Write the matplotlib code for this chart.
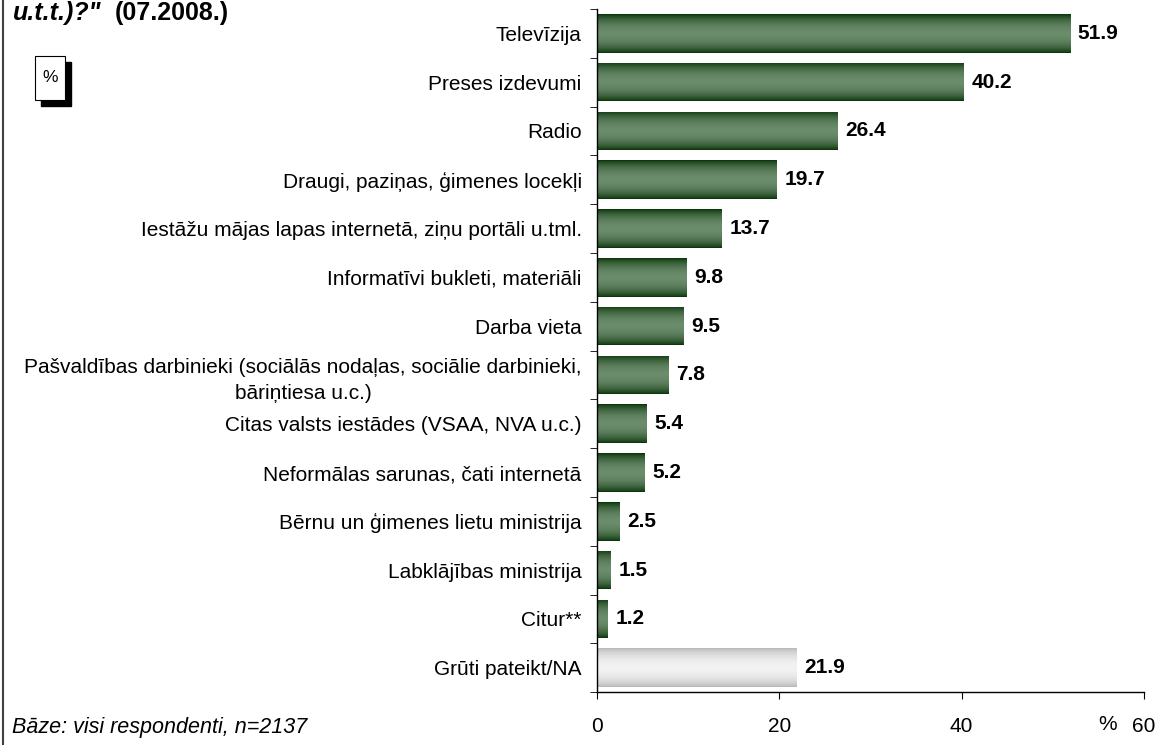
import matplotlib.pyplot as plt
import numpy as np
from matplotlib.patches import Rectangle
from matplotlib.lines import Line2D

plt.rcParams['font.family'] = ['Liberation Sans', 'DejaVu Sans']

# data
categories = [
    'Televīzija',
    'Preses izdevumi',
    'Radio',
    'Draugi, paziņas, ģimenes locekļi',
    'Iestāžu mājas lapas internetā, ziņu portāli u.tml.',
    'Informatīvi bukleti, materiāli',
    'Darba vieta',
    'Pašvaldības darbinieki (sociālās nodaļas, sociālie darbinieki,\nbāriņtiesa u.c.)',
    'Citas valsts iestādes (VSAA, NVA u.c.)',
    'Neformālas sarunas, čati internetā',
    'Bērnu un ģimenes lietu ministrija',
    'Labklājības ministrija',
    'Citur**',
    'Grūti pateikt/NA',
]
values = [51.9, 40.2, 26.4, 19.7, 13.7, 9.8, 9.5, 7.8, 5.4, 5.2, 2.5, 1.5, 1.2, 21.9]
x_ticks = [0, 20, 40, 60]

FS = 15


def gradient(dark, light, n=64):
    s = np.linspace(0, 1, n)
    t = np.sin(np.pi * s) ** 0.7
    dark = np.array(dark)
    light = np.array(light)
    return (dark[None, :] * (1 - t[:, None]) + light[None, :] * t[:, None])[:, None, :]


green = gradient((0.03, 0.20, 0.03), (0.42, 0.55, 0.42))
grey = gradient((0.72, 0.72, 0.72), (0.95, 0.95, 0.95))

fig = plt.figure(figsize=(11.59, 7.45), dpi=100)
ax = fig.add_axes([597 / 1159, 0.071, 547 / 1159, 0.917])

y = np.arange(len(categories))
bars = ax.barh(y, values, height=0.79, color='none', edgecolor='none')
for i, b in enumerate(bars):
    img = grey if i == len(categories) - 1 else green
    x0, y0 = b.get_x(), b.get_y()
    w, h = b.get_width(), b.get_height()
    im = ax.imshow(img, extent=(x0, x0 + w, y0, y0 + h), aspect='auto',
                   origin='lower', zorder=2, interpolation='bilinear')
    im.set_clip_path(b)
    ax.text(w + 0.85, y[i], f'{values[i]:.1f}', va='center', ha='left',
            fontsize=15, fontweight='bold', zorder=3)

ax.set_xlim(0, 60)
ax.set_ylim(len(categories) - 0.5, -0.5)

ax.set_yticks(y)
ax.set_yticklabels(categories, fontsize=FS, multialignment='center', linespacing=1.45)
ax.tick_params(axis='y', length=0, pad=11)
ax.set_yticks(np.arange(-0.5, len(categories)), minor=True)
ax.tick_params(axis='y', which='minor', length=5, direction='out')

ax.set_xticks(x_ticks)
ax.set_xticklabels([str(v) for v in x_ticks], fontsize=FS)
ax.tick_params(axis='x', length=5, direction='out', pad=13)

for s in ['top', 'right']:
    ax.spines[s].set_visible(False)
for s in ['left', 'bottom']:
    ax.spines[s].set_linewidth(1.0)

fig.text(1108 / 1159, 1 - 725 / 745, '%', fontsize=FS, ha='center', va='center')

# title (cut at top)
fig.text(13 / 1159, 1 - 20 / 745, 'u.t.t.)?"', fontsize=18, fontweight='bold',
         fontstyle='italic', va='baseline', ha='left')
fig.text(115 / 1159, 1 - 20 / 745, '(07.2008.)', fontsize=18, fontweight='bold',
         va='baseline', ha='left')

# % box with shadow
fig.patches.append(Rectangle((41 / 1159, 1 - 106 / 745), 30 / 1159, 44 / 745,
                             transform=fig.transFigure, facecolor='black', edgecolor='black'))
fig.patches.append(Rectangle((35 / 1159, 1 - 100 / 745), 30 / 1159, 44 / 745,
                             transform=fig.transFigure, facecolor='white', edgecolor='black',
                             linewidth=0.8))
fig.text(50 / 1159, 1 - 78 / 745, '%', fontsize=12.5, ha='center', va='center')

fig.text(12 / 1159, 1 - 728 / 745, 'Bāze: visi respondenti, n=2137', fontsize=15.5,
         fontstyle='italic', ha='left', va='center')

# left frame line
fig.lines.append(Line2D([2.5 / 1159, 2.5 / 1159], [0, 1], transform=fig.transFigure,
                        color='#404040', linewidth=1.5))

fig.savefig('out.png', dpi=100)
